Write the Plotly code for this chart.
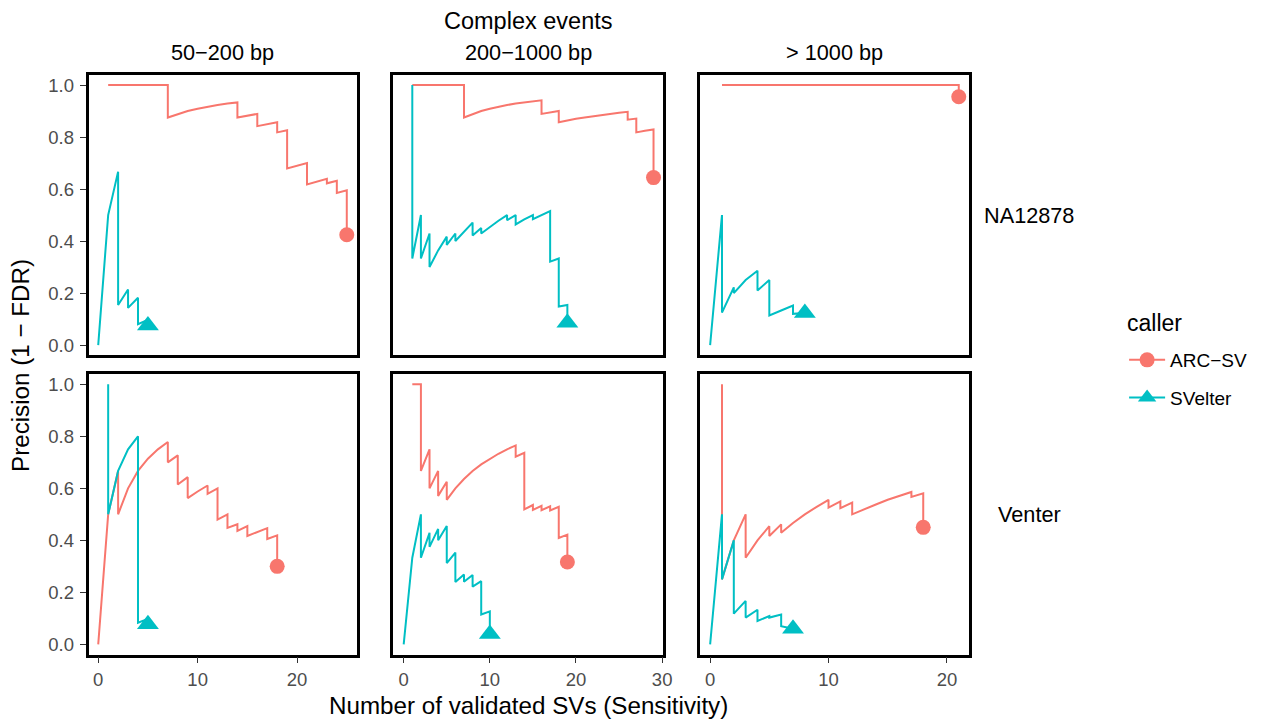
import plotly.graph_objects as go

# Reference canvas is 1263x721; the page is rendered slightly wider than the
# screenshot, so the figure is made 1271 px wide while positions stay in
# reference-pixel fractions.
REF_W, REF_H = 1263, 721
W, H = 1271, 721
RED = "#F8766D"
TEAL = "#00BFC4"
FONT = "Liberation Sans, Arial, Helvetica, sans-serif"

callers = ["ARC\u2212SV", "SVelter"]
samples = ["NA12878", "Venter"]
size_bins = ["50\u2212200 bp", "200\u22121000 bp", "> 1000 bp"]
title_text = "Complex events"
legend_title = "caller"
x_title = "Number of validated SVs (Sensitivity)"
y_title = "Precision (1 \u2212 FDR)"
y_ticks = [0.0, 0.2, 0.4, 0.6, 0.8, 1.0]
x_ticks = [[0, 10, 20], [0, 10, 20, 30], [0, 10, 20]]

# ---- NA12878, 50-200 bp ----
arc_na_s_x = [1, 2, 3, 4, 5, 6, 7, 7, 8, 9, 10, 11, 12, 13, 14, 14, 15, 16, 16, 17, 18, 18, 19, 19, 20, 21, 21, 22, 23, 23, 24, 24, 25, 25]
arc_na_s_y = [1, 1, 1, 1, 1, 1, 1, 0.875, 0.889, 0.9, 0.909, 0.917, 0.923, 0.929, 0.933, 0.875, 0.882, 0.889, 0.842, 0.85, 0.857, 0.818, 0.826, 0.679, 0.69, 0.70, 0.618, 0.629, 0.639, 0.622, 0.632, 0.585, 0.595, 0.424]
svt_na_s_x = [0, 1, 2, 2, 3, 3, 4, 4, 5, 5]
svt_na_s_y = [0, 0.5, 0.667, 0.154, 0.214, 0.143, 0.182, 0.08, 0.097, 0.075]

# ---- NA12878, 200-1000 bp ----
arc_na_m_x = [1, 2, 3, 4, 5, 6, 7, 7, 8, 9, 10, 11, 12, 13, 14, 15, 16, 16, 17, 18, 18, 19, 20, 21, 22, 23, 24, 25, 26, 26, 27, 27, 28, 29, 29]
arc_na_m_y = [1, 1, 1, 1, 1, 1, 1, 0.875, 0.889, 0.9, 0.909, 0.917, 0.923, 0.929, 0.933, 0.9375, 0.941, 0.889, 0.895, 0.9, 0.857, 0.864, 0.870, 0.875, 0.88, 0.885, 0.889, 0.893, 0.897, 0.867, 0.871, 0.818, 0.824, 0.829, 0.644]
svt_na_m_x = [1, 1, 2, 2, 3, 3, 4, 5, 5, 6, 6, 7, 8, 8, 9, 9, 10, 11, 12, 12, 13, 13, 14, 15, 15, 16, 17, 17, 18, 18, 19, 19]
svt_na_m_y = [1, 0.333, 0.5, 0.333, 0.429, 0.3, 0.364, 0.417, 0.385, 0.429, 0.4, 0.4375, 0.471, 0.421, 0.45, 0.429, 0.455, 0.478, 0.5, 0.48, 0.5, 0.464, 0.483, 0.5, 0.484, 0.5, 0.515, 0.321, 0.333, 0.148, 0.154, 0.086]

# ---- NA12878, > 1000 bp ----
arc_na_l_x = [1, 3, 5, 7, 9, 11, 13, 15, 17, 19, 21, 21]
arc_na_l_y = [1, 1, 1, 1, 1, 1, 1, 1, 1, 1, 1, 0.955]
svt_na_l_x = [0, 1, 1, 2, 2, 3, 4, 4, 5, 5, 6, 7, 7, 8]
svt_na_l_y = [0, 0.5, 0.125, 0.222, 0.2, 0.25, 0.286, 0.21, 0.25, 0.114, 0.133, 0.152, 0.12, 0.123]

# ---- Venter, 50-200 bp ----
arc_ve_s_x = [0, 1, 2, 2, 3, 4, 5, 6, 7, 7, 8, 8, 9, 9, 10, 11, 11, 12, 12, 13, 13, 14, 14, 15, 15, 16, 17, 17, 18, 18]
arc_ve_s_y = [0, 0.5, 0.667, 0.5, 0.6, 0.667, 0.714, 0.75, 0.778, 0.7, 0.727, 0.615, 0.643, 0.5625, 0.588, 0.611, 0.579, 0.6, 0.48, 0.5, 0.448, 0.462, 0.436, 0.455, 0.417, 0.432, 0.447, 0.405, 0.419, 0.3]
svt_ve_s_x = [1, 1, 2, 3, 4, 4, 5, 5]
svt_ve_s_y = [1, 0.5, 0.667, 0.75, 0.8, 0.083, 0.098, 0.077]

# ---- Venter, 200-1000 bp ----
arc_ve_m_x = [1, 2, 2, 3, 3, 4, 4, 5, 5, 6, 7, 8, 9, 10, 11, 12, 13, 13, 14, 14, 15, 15, 16, 16, 17, 17, 18, 18, 19, 19]
arc_ve_m_y = [1, 1, 0.667, 0.75, 0.6, 0.667, 0.571, 0.625, 0.556, 0.6, 0.636, 0.667, 0.692, 0.714, 0.733, 0.75, 0.765, 0.722, 0.737, 0.519, 0.536, 0.517, 0.533, 0.516, 0.531, 0.515, 0.529, 0.409, 0.422, 0.317]
svt_ve_m_x = [0, 1, 2, 2, 3, 3, 4, 4, 5, 5, 6, 6, 7, 7, 8, 8, 9, 9, 10, 10]
svt_ve_m_y = [0, 0.333, 0.5, 0.333, 0.429, 0.375, 0.444, 0.4, 0.455, 0.3125, 0.353, 0.24, 0.269, 0.241, 0.267, 0.222, 0.243, 0.115, 0.127, 0.04]

# ---- Venter, > 1000 bp ----
arc_ve_l_x = [1, 1, 1, 2, 3, 3, 4, 5, 5, 6, 6, 7, 8, 9, 10, 10, 11, 11, 12, 12, 13, 14, 15, 16, 17, 17, 18, 18]
arc_ve_l_y = [1, 0.5, 0.25, 0.4, 0.5, 0.333, 0.4, 0.4545, 0.417, 0.4615, 0.429, 0.467, 0.5, 0.529, 0.556, 0.526, 0.55, 0.524, 0.545, 0.5, 0.52, 0.538, 0.556, 0.571, 0.586, 0.567, 0.581, 0.45]
svt_ve_l_x = [0, 1, 1, 2, 2, 3, 3, 4, 4, 5, 5, 6, 6, 7]
svt_ve_l_y = [0, 0.5, 0.25, 0.4, 0.118, 0.167, 0.103, 0.133, 0.09, 0.109, 0.103, 0.115, 0.07, 0.06]

panel_data = [
    [((arc_na_s_x, arc_na_s_y), (svt_na_s_x, svt_na_s_y)),
     ((arc_na_m_x, arc_na_m_y), (svt_na_m_x, svt_na_m_y)),
     ((arc_na_l_x, arc_na_l_y), (svt_na_l_x, svt_na_l_y))],
    [((arc_ve_s_x, arc_ve_s_y), (svt_ve_s_x, svt_ve_s_y)),
     ((arc_ve_m_x, arc_ve_m_y), (svt_ve_m_x, svt_ve_m_y)),
     ((arc_ve_l_x, arc_ve_l_y), (svt_ve_l_x, svt_ve_l_y))],
]

# ---- layout geometry (reference pixels) ----
col_px = [(88.6, 357.0), (393.6, 663.7), (700.6, 969.7)]
row_px = [(74.9, 355.2), (374.2, 654.5)]
x_ranges = [[-0.975, 26.0], [-1.206, 30.12], [-0.852, 21.86]]
y_range = [-0.039, 1.039]


def px(sx):
    return sx / REF_W


def py(sy):
    return 1 - sy / REF_H


fig = go.Figure()
colors = [RED, TEAL]
symbols = ["circle", "triangle-up"]
msizes = [15, 19]


def axn(r, c):
    return r * 3 + c + 1


for r in range(2):
    for c in range(3):
        n = axn(r, c)
        for k in range(2):
            xs, ys = panel_data[r][c][k]
            fig.add_trace(go.Scatter(
                x=xs, y=ys, mode="lines",
                line=dict(color=colors[k], width=2),
                xaxis="x%d" % n, yaxis="y%d" % n,
                showlegend=False, hoverinfo="skip",
                legendgroup=callers[k]))
for r in range(2):
    for c in range(3):
        n = axn(r, c)
        for k in range(2):
            xs, ys = panel_data[r][c][k]
            fig.add_trace(go.Scatter(
                x=xs[-1:], y=ys[-1:], mode="markers",
                marker=dict(color=colors[k], symbol=symbols[k], size=msizes[k], line=dict(width=0)),
                xaxis="x%d" % n, yaxis="y%d" % n,
                showlegend=False, hoverinfo="skip",
                legendgroup=callers[k]))
for k in range(2):
    fig.add_trace(go.Scatter(
        x=[None], y=[None], mode="lines+markers", name=callers[k],
        line=dict(color=colors[k], width=2),
        marker=dict(color=colors[k], symbol=symbols[k], size=msizes[k]),
        xaxis="x1", yaxis="y1", legendgroup=callers[k], showlegend=True))

layout = dict(
    width=W, height=H,
    margin=dict(l=0, r=0, t=0, b=0),
    paper_bgcolor="white", plot_bgcolor="white",
    font=dict(family=FONT, color="black"),
    showlegend=True,
    legend=dict(
        x=px(1125), y=py(341), xanchor="left", yanchor="top",
        font=dict(size=19, family=FONT, color="black"),
        traceorder="grouped", tracegroupgap=10, itemwidth=36,
        bgcolor="rgba(0,0,0,0)",
    ),
)

for r in range(2):
    for c in range(3):
        n = axn(r, c)
        x0, x1 = col_px[c]
        yt, yb = row_px[r]
        xa = dict(
            domain=[px(x0), px(x1)], range=x_ranges[c], anchor="y%d" % n,
            showgrid=False, zeroline=False,
            showline=True, linecolor="black", linewidth=2.6, mirror=True,
            tickvals=x_ticks[c], ticktext=[str(v) for v in x_ticks[c]],
            tickfont=dict(size=18.5, color="#4D4D4D", family=FONT),
        )
        if r == 1:
            xa.update(ticks="outside", ticklen=6, tickwidth=1.4, tickcolor="#333333", showticklabels=True)
        else:
            xa.update(ticks="", showticklabels=False)
        ya = dict(
            domain=[py(yb), py(yt)], range=y_range, anchor="x%d" % n,
            showgrid=False, zeroline=False,
            showline=True, linecolor="black", linewidth=2.6, mirror=True,
            tickvals=y_ticks, ticktext=["%.1f" % v for v in y_ticks],
            tickfont=dict(size=18.5, color="#4D4D4D", family=FONT),
        )
        if c == 0:
            ya.update(ticks="outside", ticklen=6, tickwidth=1.4, tickcolor="#333333",
                      showticklabels=True, ticklabelstandoff=2)
        else:
            ya.update(ticks="", showticklabels=False)
        layout["xaxis" if n == 1 else "xaxis%d" % n] = xa
        layout["yaxis" if n == 1 else "yaxis%d" % n] = ya


def ann(text, sx, sy, size, xanchor="center", angle=0):
    return dict(text=text, x=px(sx), y=py(sy), xref="paper", yref="paper",
                showarrow=False, xanchor=xanchor, yanchor="middle", textangle=angle,
                font=dict(size=size, color="black", family=FONT))


annotations = []
for c in range(3):
    x0, x1 = col_px[c]
    annotations.append(ann(size_bins[c], (x0 + x1) / 2, 53, 21.7))
for r in range(2):
    yt, yb = row_px[r]
    annotations.append(ann(samples[r], 1030, (yt + yb) / 2, 21.7))
annotations.append(ann(title_text, 528.5, 21, 23.5))
annotations.append(ann(x_title, 529, 705, 24.2))
annotations.append(ann(y_title, 20, 365, 24.2, angle=-90))
annotations.append(ann(legend_title, 1126, 323, 23, xanchor="left"))
layout["annotations"] = annotations

fig.update_layout(**layout)
fig.write_html(
    "out.html",
    config={"displayModeBar": False},
    post_script="document.body.style.margin='0';document.body.style.overflow='hidden';",
)
